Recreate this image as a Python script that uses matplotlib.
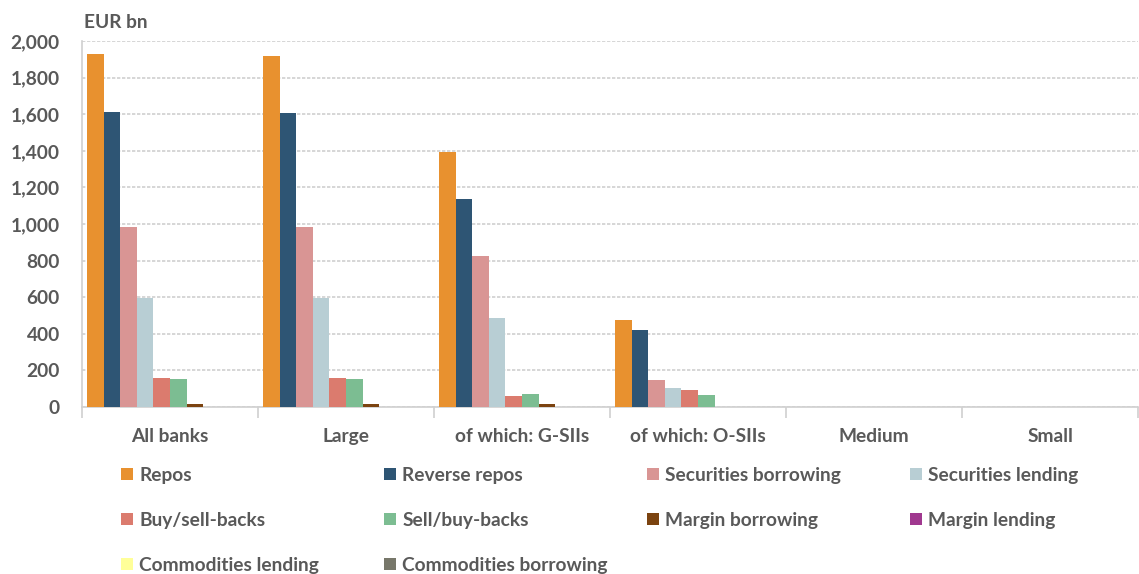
import matplotlib
matplotlib.use("Agg")
import matplotlib.pyplot as plt
import numpy as np

plt.rcParams['font.family'] = ['Lato', 'DejaVu Sans']

categories = ["All banks", "Large", "of which: G-SIIs", "of which: O-SIIs", "Medium", "Small"]
series_names = ["Repos", "Reverse repos", "Securities borrowing", "Securities lending",
                "Buy/sell-backs", "Sell/buy-backs", "Margin borrowing", "Margin lending",
                "Commodities lending", "Commodities borrowing"]
repos = [1931, 1916, 1391, 476, 0, 0]
reverse_repos = [1613, 1608, 1138, 419, 0, 0]
securities_borrowing = [981, 981, 827, 146, 0, 0]
securities_lending = [597, 598, 487, 102, 0, 0]
buy_sell_backs = [160, 160, 61, 95, 0, 0]
sell_buy_backs = [152, 152, 71, 68, 0, 0]
margin_borrowing = [16, 16, 16, 0, 0, 0]
margin_lending = [0, 0, 0, 0, 0, 0]
commodities_lending = [0, 0, 0, 0, 0, 0]
commodities_borrowing = [0, 0, 0, 0, 0, 0]
values = [repos, reverse_repos, securities_borrowing, securities_lending, buy_sell_backs,
          sell_buy_backs, margin_borrowing, margin_lending, commodities_lending,
          commodities_borrowing]
colors = ["#E8912F", "#2E5574", "#D99594", "#B8CED4", "#DB7B6E", "#7CBD92",
          "#7B4310", "#A0388F", "#FFFF99", "#77776A"]

TXT = "#595959"
FS = 13.8
fig = plt.figure(figsize=(11.39, 5.74), dpi=100)
ax = fig.add_axes([82/1139, 1-407/574, (1138-82)/1139, (407-41)/574])

n = len(series_names)
bw = 1/(n+0.6)
x = np.arange(len(categories))
handles = []
for i, (name, vals, c) in enumerate(zip(series_names, values, colors)):
    h = ax.bar(x - 0.5 + 0.3*bw + (i+0.5)*bw, vals, width=bw, color=c, label=name,
               edgecolor='none', zorder=3)
    handles.append(h)

ax.set_xlim(-0.5, len(categories)-0.5)
ax.set_ylim(0, 2000)
ax.set_yticks(np.arange(0, 2001, 200))
ax.set_yticklabels([f"{v:,}" for v in range(0, 2001, 200)])
ax.yaxis.grid(True, color="#D0D0D0", linestyle=(0, (2, 1)), linewidth=1.2, zorder=0)
ax.set_xticks(x)
ax.set_xticklabels(categories)
ax.set_xticks(np.arange(-0.5, len(categories), 1), minor=True)
ax.tick_params(axis='x', which='major', length=0, pad=15, labelsize=FS, labelcolor=TXT)
ax.tick_params(axis='x', which='minor', length=8, color="#D0D0D0", width=1.2)
ax.tick_params(axis='y', length=0, pad=16, labelsize=FS, labelcolor=TXT)
for lab in ax.get_xticklabels() + ax.get_yticklabels():
    lab.set_fontweight('bold')
for s in ['top', 'right']:
    ax.spines[s].set_visible(False)
ax.spines['left'].set_color("#D0D0D0")
ax.spines['bottom'].set_color("#D0D0D0")
ax.spines['left'].set_linewidth(1.2)
ax.spines['bottom'].set_linewidth(1.2)

fig.text(84/1139, 1-22/574, "EUR bn", fontsize=FS, color=TXT, fontweight='bold',
         va='center', ha='left')

col_x = [121, 384, 647, 910]
for c in range(4):
    idx = [i for i in range(n) if i % 4 == c]
    leg = fig.legend([handles[i] for i in idx], [series_names[i] for i in idx],
                     loc='upper left', bbox_to_anchor=(col_x[c]/1139, 1-467/574),
                     frameon=False, fontsize=FS, handlelength=0.6, handleheight=0.6,
                     handletextpad=0.35, labelspacing=1.45, borderaxespad=0, borderpad=0)
    for t in leg.get_texts():
        t.set_color(TXT)
        t.set_fontweight('bold')

fig.savefig("out.png", dpi=100, facecolor='white')
